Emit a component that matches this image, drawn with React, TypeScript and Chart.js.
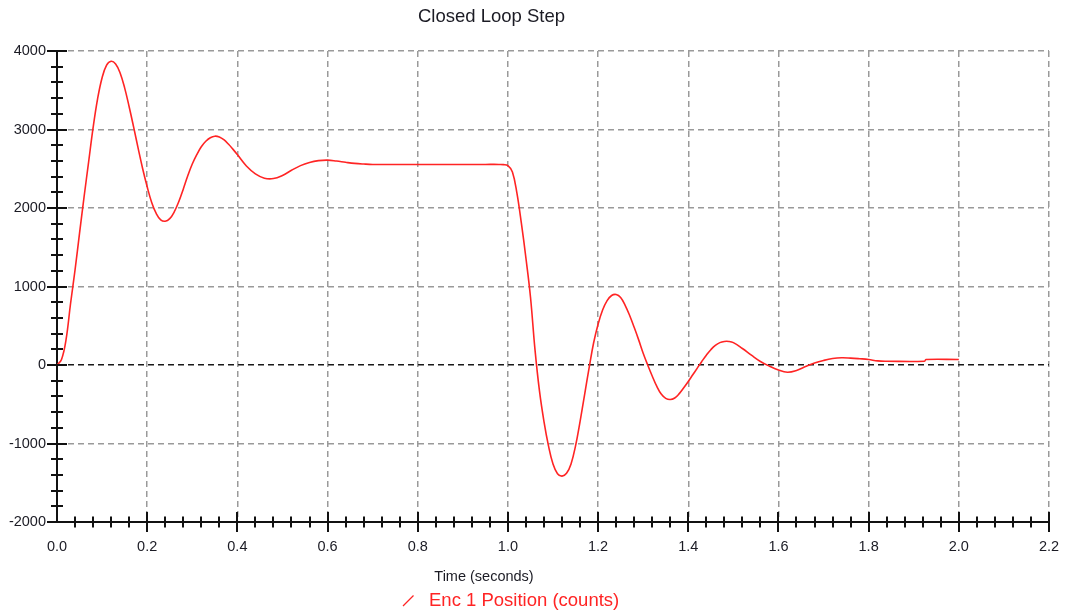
import React, { useEffect, useRef } from "react";
import { Chart, registerables } from "chart.js";

Chart.register(...registerables);

const CHART_TITLE = "Closed Loop Step";
const X_AXIS_TITLE = "Time (seconds)";
const SERIES_LABEL = "Enc 1 Position (counts)";

const TIME_S = [
  0.0, 0.01, 0.02, 0.03, 0.04, 0.05, 0.06, 0.07, 0.08, 0.09, 0.1, 0.11, 0.12, 0.13, 0.14, 0.15, 0.16, 0.17,
  0.18, 0.19, 0.2, 0.21, 0.22, 0.23, 0.24, 0.25, 0.26, 0.27, 0.28, 0.29, 0.3, 0.31, 0.32, 0.33, 0.34, 0.35,
  0.36, 0.37, 0.38, 0.39, 0.4, 0.42, 0.44, 0.46, 0.48, 0.5, 0.52, 0.54, 0.56, 0.58, 0.6, 0.62, 0.64, 0.66,
  0.68, 0.7, 0.8, 0.9, 0.95, 0.98, 0.99, 1.0, 1.01, 1.02, 1.03, 1.04, 1.05, 1.06, 1.07, 1.08, 1.09, 1.1,
  1.11, 1.12, 1.13, 1.14, 1.15, 1.16, 1.17, 1.18, 1.19, 1.2, 1.21, 1.22, 1.23, 1.24, 1.25, 1.26, 1.27, 1.28,
  1.29, 1.3, 1.31, 1.32, 1.33, 1.34, 1.35, 1.36, 1.37, 1.38, 1.39, 1.4, 1.41, 1.42, 1.43, 1.44, 1.45, 1.46,
  1.47, 1.48, 1.49, 1.5, 1.52, 1.54, 1.56, 1.58, 1.6, 1.62, 1.64, 1.66, 1.68, 1.7, 1.72, 1.74, 1.76, 1.78,
  1.8, 1.82, 1.84, 1.924, 1.927, 2.0,
];

const POSITION_COUNTS = [
  0, 70, 320, 780, 1210, 1680, 2140, 2580, 3020, 3390, 3660, 3820, 3870, 3835, 3720, 3530, 3290, 3030,
  2760, 2500, 2270, 2070, 1930, 1850, 1832, 1865, 1950, 2080, 2240, 2410, 2560, 2680, 2780, 2850, 2895, 2915,
  2905, 2870, 2815, 2750, 2680, 2535, 2435, 2380, 2375, 2415, 2480, 2540, 2580, 2603, 2610, 2598, 2582, 2568,
  2560, 2555, 2555, 2555, 2555, 2555, 2553, 2540, 2460, 2190, 1800, 1360, 870, 200, -330, -720, -1030, -1260,
  -1385, -1416, -1380, -1260, -1030, -720, -380, -40, 280, 520, 700, 820, 885, 898, 860, 760, 630, 480,
  320, 150, 0, -140, -270, -370, -425, -440, -420, -365, -290, -210, -125, -40, 45, 125, 195, 250,
  285, 300, 300, 285, 210, 125, 45, -15, -65, -92, -70, -20, 25, 58, 82, 92, 88, 80,
  70, 52, 48, 48, 70, 70,
];

const X_MIN = 0;
const X_MAX = 2.2;
const X_MAJOR = 0.2;
const X_MINOR = 0.04;
const Y_MIN = -2000;
const Y_MAX = 4000;
const Y_MAJOR = 1000;
const Y_MINOR = 200;

const W = 1066;
const H = 615;
const FONT = "'Liberation Sans', Arial, Helvetica, sans-serif";
const LINE_RED = "#ff2424";

const decorPlugin = {
  id: "decor",
  afterDraw(chart: any) {
    const { ctx, chartArea } = chart;
    const xs = chart.scales.x;
    const ys = chart.scales.y;
    ctx.save();
    ctx.strokeStyle = "#111";
    ctx.lineWidth = 2;
    const nY = Math.round((Y_MAX - Y_MIN) / Y_MINOR);
    const perY = Math.round(Y_MAJOR / Y_MINOR);
    for (let i = 0; i <= nY; i++) {
      const v = Y_MIN + i * Y_MINOR;
      const py = Math.round(ys.getPixelForValue(v));
      const major = i % perY === 0;
      const l = major ? 10 : 6;
      ctx.beginPath();
      ctx.moveTo(chartArea.left - l, py);
      ctx.lineTo(chartArea.left + l, py);
      ctx.stroke();
    }
    const nX = Math.round((X_MAX - X_MIN) / X_MINOR);
    const perX = Math.round(X_MAJOR / X_MINOR);
    for (let i = 1; i <= nX; i++) {
      const v = X_MIN + i * X_MINOR;
      const px = Math.round(xs.getPixelForValue(v));
      const major = i % perX === 0;
      const l = major ? 10 : 5.5;
      ctx.beginPath();
      ctx.moveTo(px, chartArea.bottom - l);
      ctx.lineTo(px, chartArea.bottom + l);
      ctx.stroke();
    }
    ctx.fillStyle = "#1b1b24";
    ctx.textAlign = "center";
    ctx.textBaseline = "alphabetic";
    ctx.font = `18.5px ${FONT}`;
    ctx.fillText(CHART_TITLE, 491.5, 22);
    ctx.font = `14.5px ${FONT}`;
    ctx.fillText(X_AXIS_TITLE, 484, 581);
    ctx.strokeStyle = LINE_RED;
    ctx.lineWidth = 1.3;
    ctx.beginPath();
    ctx.moveTo(403, 606);
    ctx.lineTo(413.5, 595.5);
    ctx.stroke();
    ctx.fillStyle = LINE_RED;
    ctx.textAlign = "left";
    ctx.font = `18.5px ${FONT}`;
    ctx.fillText(SERIES_LABEL, 429, 606);
    ctx.restore();
  },
};

export default function App() {
  const ref = useRef<HTMLCanvasElement>(null);
  useEffect(() => {
    const canvas = ref.current;
    if (!canvas) return;
    const chart = new Chart(canvas, {
      type: "line",
      data: {
        datasets: [
          {
            label: SERIES_LABEL,
            data: TIME_S.map((t, i) => ({ x: t, y: POSITION_COUNTS[i] })),
            borderColor: LINE_RED,
            borderWidth: 1.6,
            pointRadius: 0,
            tension: 0.4,
            fill: false,
          },
        ],
      },
      options: {
        responsive: false,
        animation: false,
        events: [],
        layout: { padding: { top: 51, right: 17, left: 0, bottom: 0 } },
        plugins: {
          legend: { display: false },
          title: { display: false },
          tooltip: { enabled: false },
        },
        scales: {
          x: {
            type: "linear",
            min: X_MIN,
            max: X_MAX,
            afterFit: (s: any) => {
              s.height = 93;
              s.paddingLeft = 0;
              s.paddingRight = 0;
            },
            ticks: {
              stepSize: X_MAJOR,
              autoSkip: false,
              maxRotation: 0,
              padding: 16,
              color: "#1b1b24",
              font: { family: FONT, size: 14.5 },
              callback: (v: any) => Number(v).toFixed(1),
            },
            grid: {
              drawTicks: false,
              lineWidth: 1.5,
              color: (c: any) =>
                c.tick && Math.abs(c.tick.value - X_MIN) < 1e-9 ? "rgba(0,0,0,0)" : "#9a9a9a",
            },
            border: { display: true, color: "#111", width: 2, dash: [6, 4] },
          },
          y: {
            type: "linear",
            min: Y_MIN,
            max: Y_MAX,
            afterFit: (s: any) => {
              s.width = 57;
              s.paddingTop = 0;
              s.paddingBottom = 0;
            },
            ticks: {
              stepSize: Y_MAJOR,
              padding: 11,
              color: "#1b1b24",
              font: { family: FONT, size: 14.5 },
              callback: (v: any) => String(Math.round(Number(v))),
            },
            grid: {
              drawTicks: false,
              lineWidth: 1.5,
              color: (c: any) => {
                if (!c.tick) return "#9a9a9a";
                if (c.tick.value === 0) return "#1a1a1a";
                if (c.tick.value === Y_MIN) return "rgba(0,0,0,0)";
                return "#9a9a9a";
              },
            },
            border: { display: true, color: "#111", width: 2, dash: [6, 4] },
          },
        },
      },
      plugins: [decorPlugin],
    });
    return () => chart.destroy();
  }, []);

  return (
    <div style={{ position: "fixed", left: 0, top: 0, width: W, height: H, background: "#fff" }}>
      <canvas ref={ref} width={W} height={H} style={{ display: "block" }} />
    </div>
  );
}
